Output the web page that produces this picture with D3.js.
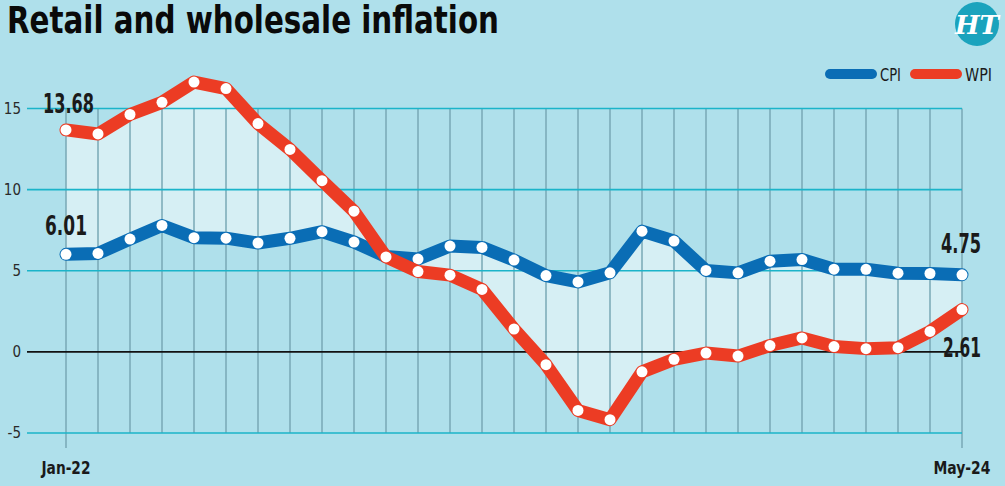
<!DOCTYPE html>
<html lang="en">
<head>
	<title>Retail and wholesale inflation</title>
	<script src="https://cdn.jsdelivr.net/npm/d3@7"></script>
	<style>
		body { margin: 0; background: #afe0eb; }
		svg { display: block; }
		text { font-family: "DejaVu Sans", sans-serif; font-stretch: condensed; }
	</style>
</head>
<body>
	<script>
		// months Jan-22 .. May-24
		var months = ["Jan-22","Feb-22","Mar-22","Apr-22","May-22","Jun-22","Jul-22","Aug-22","Sep-22","Oct-22","Nov-22","Dec-22",
			"Jan-23","Feb-23","Mar-23","Apr-23","May-23","Jun-23","Jul-23","Aug-23","Sep-23","Oct-23","Nov-23","Dec-23",
			"Jan-24","Feb-24","Mar-24","Apr-24","May-24"];
		var cpi = [6.01, 6.07, 6.95, 7.79, 7.04, 7.01, 6.71, 7.00, 7.41, 6.77, 5.88, 5.72, 6.52, 6.44, 5.66, 4.70,
			4.31, 4.87, 7.44, 6.83, 5.02, 4.87, 5.59, 5.69, 5.10, 5.09, 4.85, 4.83, 4.75];
		var wpi = [13.68, 13.43, 14.63, 15.38, 16.63, 16.23, 14.07, 12.48, 10.55, 8.67, 5.85, 4.95, 4.73, 3.85, 1.41, -0.79,
			-3.61, -4.18, -1.23, -0.46, -0.07, -0.26, 0.39, 0.86, 0.33, 0.20, 0.26, 1.26, 2.61];
		var yTicks = [-5, 0, 5, 10, 15];
		var xLabels = ["Jan-22", "May-24"];

		var width = 1005, height = 486;
		var blue = "#0a6db5", red = "#ec3c24";

		var svg = d3.select("body").append("svg")
			.attr("width", width)
			.attr("height", height);

		var x = d3.scalePoint().domain(months).range([66, 962]);
		var y = d3.scaleLinear().domain([-5, 15]).range([433, 108.5]);

		// title
		svg.append("text")
			.attr("x", 7).attr("y", 33)
			.attr("font-size", 37).attr("font-weight", "bold")
			.attr("textLength", 492).attr("lengthAdjust", "spacingAndGlyphs")
			.attr("fill", "#0a0a0a")
			.text("Retail and wholesale inflation");

		// HT logo
		var logo = svg.append("g").attr("transform", "translate(977,24)");
		logo.append("circle").attr("r", 22).attr("fill", "#1aa3bd");
		logo.append("text")
			.attr("text-anchor", "middle").attr("y", 10)
			.attr("font-style", "italic")
			.attr("font-weight", "bold").attr("font-size", 26).attr("fill", "#fff")
			.style("font-family", "'DejaVu Serif', serif")
			.style("font-stretch", "normal")
			.text("HT");

		// area between series
		var area = d3.area()
			.x(function(d, i) { return x(months[i]); })
			.y0(function(d, i) { return y(cpi[i]); })
			.y1(function(d, i) { return y(wpi[i]); });
		svg.append("path").datum(months)
			.attr("d", area)
			.attr("fill", "#d6eff4");

		// vertical grid
		svg.append("g").selectAll("line")
			.data(months).enter().append("line")
			.attr("x1", function(d) { return x(d); })
			.attr("x2", function(d) { return x(d); })
			.attr("y1", y(15))
			.attr("y2", function(d, i) { return (i === 0 || i === months.length - 1) ? 448 : y(-5); })
			.attr("stroke", "#78a8b6").attr("stroke-width", 1.5);

		// horizontal grid
		svg.append("g").selectAll("line")
			.data(yTicks).enter().append("line")
			.attr("x1", 27).attr("x2", 962)
			.attr("y1", function(d) { return y(d); })
			.attr("y2", function(d) { return y(d); })
			.attr("stroke", function(d) { return d === 0 ? "#111" : "#1bb4c9"; })
			.attr("stroke-width", 1.6);

		// y tick labels
		svg.append("g").selectAll("text")
			.data(yTicks).enter().append("text")
			.attr("x", 21).attr("y", function(d) { return y(d) + 5; })
			.attr("text-anchor", "end")
			.attr("font-size", 15).attr("fill", "#2a2a2a")
			.text(function(d) { return d; });

		// x labels
		svg.append("g").selectAll("text")
			.data(xLabels).enter().append("text")
			.attr("x", function(d) { return x(d); })
			.attr("y", 474)
			.attr("text-anchor", "middle")
			.attr("font-size", 17).attr("font-weight", "bold").attr("fill", "#1a1a1a")
			.attr("textLength", function(d, i) { return i === 0 ? 49 : 57; })
			.attr("lengthAdjust", "spacingAndGlyphs")
			.text(function(d) { return d; });

		// series lines + dots
		var line = d3.line()
			.x(function(d, i) { return x(months[i]); })
			.y(function(d) { return y(d); });

		[[cpi, blue], [wpi, red]].forEach(function(s) {
			svg.append("path").datum(s[0])
				.attr("d", line)
				.attr("fill", "none")
				.attr("stroke", s[1])
				.attr("stroke-width", 13)
				.attr("stroke-linejoin", "round")
				.attr("stroke-linecap", "round");
			svg.append("g").selectAll("circle")
				.data(s[0]).enter().append("circle")
				.attr("cx", function(d, i) { return x(months[i]); })
				.attr("cy", function(d) { return y(d); })
				.attr("r", 5.5)
				.attr("fill", "#fff");
		});

		// value labels
		var labels = [
			{ t: "13.68", xi: 0, v: wpi[0], dx: -23, dy: -17, w: 51 },
			{ t: "6.01", xi: 0, v: cpi[0], dx: -21, dy: -19, w: 42 },
			{ t: "4.75", xi: 28, v: cpi[28], dx: -21, dy: -22, w: 40 },
			{ t: "2.61", xi: 28, v: wpi[28], dx: -19, dy: 47, w: 38 }
		];
		svg.append("g").selectAll("text")
			.data(labels).enter().append("text")
			.attr("x", function(d) { return x(months[d.xi]) + d.dx; })
			.attr("y", function(d) { return y(d.v) + d.dy; })
			.attr("font-size", 26).attr("font-weight", "bold").attr("fill", "#1a1a1a")
			.attr("textLength", function(d) { return d.w; })
			.attr("lengthAdjust", "spacingAndGlyphs")
			.text(function(d) { return d.t; });

		// legend
		var legend = svg.append("g");
		[["CPI", blue, 830, 21], ["WPI", red, 915, 27]].forEach(function(l) {
			legend.append("line")
				.attr("x1", l[2]).attr("x2", l[2] + 42)
				.attr("y1", 74).attr("y2", 74)
				.attr("stroke", l[1]).attr("stroke-width", 10)
				.attr("stroke-linecap", "round");
			legend.append("text")
				.attr("x", l[2] + 50).attr("y", 81)
				.attr("font-size", 18).attr("fill", "#1a1a1a")
				.attr("textLength", l[3]).attr("lengthAdjust", "spacingAndGlyphs")
				.text(l[0]);
		});
	</script>
</body>
</html>
